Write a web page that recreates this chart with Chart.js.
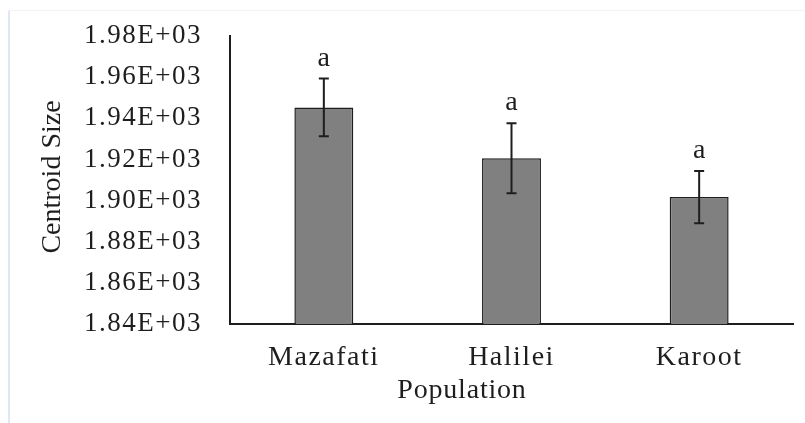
<!DOCTYPE html>
<html>
<head>
<meta charset="utf-8">
<script src="https://cdn.jsdelivr.net/npm/chart.js@4"></script>
<style>
  html, body { margin: 0; padding: 0; background: #fff; }
  #wrap { position: relative; width: 805px; height: 423px; }
  #edge { position: absolute; left: 8px; top: 10px; bottom: 0; width: 2px; background: #dfe8f2; }
  #topEdge { position: absolute; left: 8px; right: 0; top: 10px; height: 1px; background: #f3f3f3; }
</style>
</head>
<body>
<div id="wrap">
  <div id="edge"></div>
  <div id="topEdge"></div>
  <canvas id="c" width="805" height="423"></canvas>
</div>
<script>
// Centroid size per population, mean ± error, with letter groups
const populations = ['Mazafati', 'Halilei', 'Karoot'];
const centroidMean = [1945.3, 1920.6, 1901.7];
const centroidErr = [14, 17, 12.7];
const groupLetters = ['a', 'a', 'a'];
const yTicks = [1840, 1860, 1880, 1900, 1920, 1940, 1960, 1980];
const yTitle = 'Centroid Size';
const xTitle = 'Population';

const serif = "'Liberation Serif', 'Times New Roman', Times, serif";
const ink = '#1e1e1e';

// source picture is a bit stretched sideways, widen the letters a little
const wideText = {
  id: 'wideText',
  beforeDraw(chart) { chart.ctx.letterSpacing = '1.5px'; }
};

function drawTitle(ctx, text, x, y, rot, spacing) {
  ctx.save();
  ctx.letterSpacing = spacing;
  ctx.fillStyle = ink;
  ctx.font = '28px ' + serif;
  ctx.textAlign = 'center';
  ctx.textBaseline = 'middle';
  ctx.translate(x, y);
  ctx.rotate(rot);
  ctx.fillText(text, 0, 0);
  ctx.restore();
}

// ── error bars, letters, axis titles ───────────────────────
const errorBars = {
  id: 'errorBars',
  afterDatasetsDraw(chart) {
    const { ctx, scales: { x, y } } = chart;
    ctx.save();
    ctx.strokeStyle = ink;
    ctx.lineWidth = 2;
    populations.forEach((p, i) => {
      const cx = x.getPixelForValue(i);
      const top = y.getPixelForValue(centroidMean[i] + centroidErr[i]);
      const bot = y.getPixelForValue(centroidMean[i] - centroidErr[i]);
      ctx.beginPath();
      ctx.moveTo(cx, top); ctx.lineTo(cx, bot);
      ctx.moveTo(cx - 5, top); ctx.lineTo(cx + 5, top);
      ctx.moveTo(cx - 5, bot); ctx.lineTo(cx + 5, bot);
      ctx.stroke();
      ctx.fillStyle = ink;
      ctx.font = '28px ' + serif;
      ctx.letterSpacing = '0px';
      ctx.textAlign = 'center';
      ctx.textBaseline = 'alphabetic';
      ctx.fillText(groupLetters[i], cx, top - 13);
    });
    ctx.restore();
  },
  afterDraw(chart) {
    const { ctx, chartArea } = chart;
    drawTitle(ctx, yTitle, 53, (chartArea.top + chartArea.bottom) / 2 - 3, -Math.PI / 2, '0px');
    // x title sits left of the plot centre in the original
    drawTitle(ctx, xTitle, 462, 391, 0, '0.8px');
  }
};

function build() {
  new Chart(document.getElementById('c'), {
    type: 'bar',
    data: {
      labels: populations,
      datasets: [{
        data: centroidMean,
        backgroundColor: '#808080',
        borderColor: ink,
        borderWidth: 1.5,
        borderSkipped: 'bottom',
        categoryPercentage: 1,
        barPercentage: 0.314
      }]
    },
    options: {
      responsive: false,
      animation: false,
      layout: { padding: { top: 36, right: 12, left: 0, bottom: 0 } },
      plugins: { legend: { display: false }, tooltip: { enabled: false } },
      scales: {
        x: {
          grid: { display: false, drawTicks: false },
          border: { display: true, color: ink, width: 2 },
          ticks: { color: ink, font: { family: serif, size: 28 }, padding: 17 },
          afterFit: s => { s.height = 99; s.paddingLeft = 0; s.paddingRight = 0; }
        },
        y: {
          min: 1840, max: 1980,
          grid: { display: false, drawTicks: false },
          border: { display: true, color: ink, width: 2 },
          afterBuildTicks: s => { s.ticks = yTicks.map(v => ({ value: v })); },
          ticks: {
            color: ink, font: { family: serif, size: 27 }, padding: 28,
            callback: v => (v / 1000).toFixed(2) + 'E+03'
          },
          afterFit: s => { s.width = 230; s.paddingTop = 0; s.paddingBottom = 0; }
        }
      }
    },
    plugins: [wideText, errorBars]
  });
}

if (document.fonts && document.fonts.load) {
  document.fonts.load("28px 'Liberation Serif'").then(build, build);
} else {
  build();
}
</script>
</body>
</html>
